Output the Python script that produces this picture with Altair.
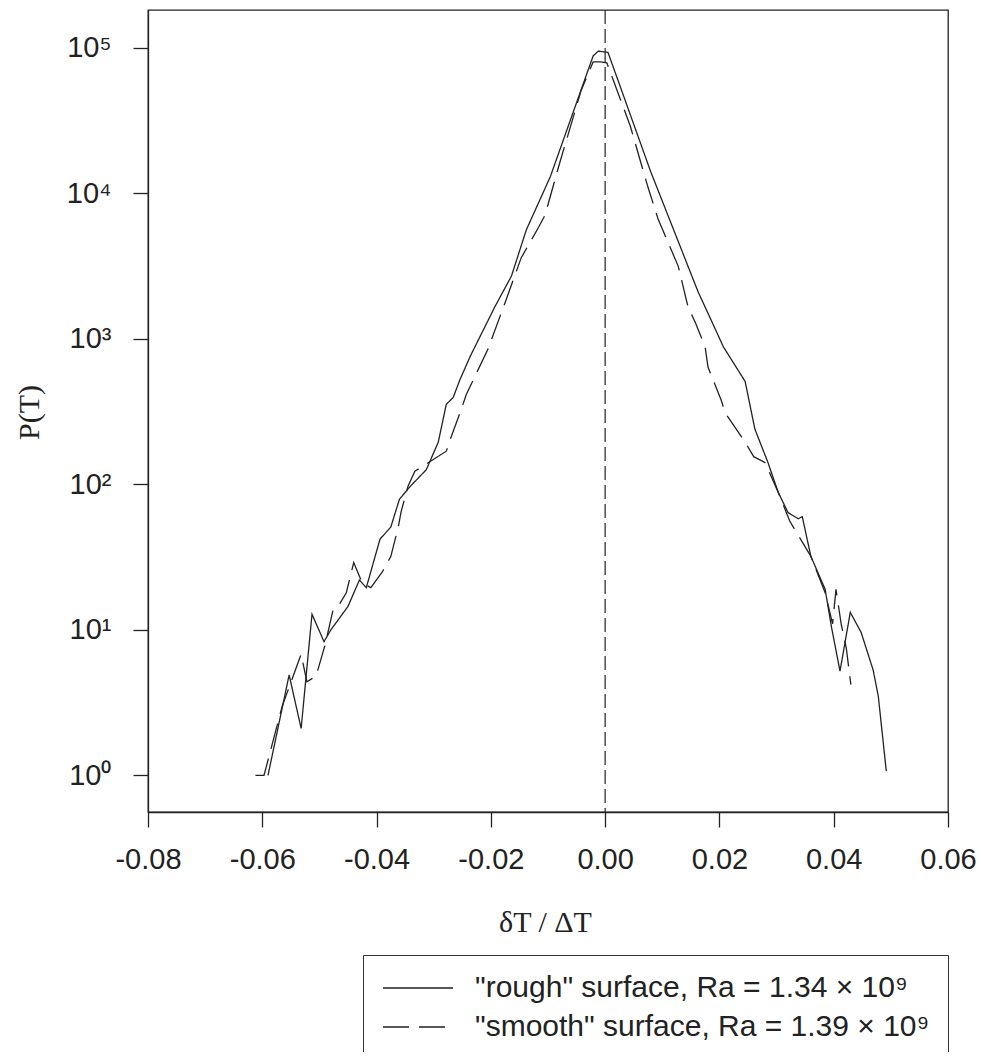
import altair as alt
import pandas as pd

# ---- data ----
rough_x = [-0.0590, -0.0553, -0.0532, -0.0513, -0.0492, -0.0480, -0.0450, -0.0430, -0.0418,
           -0.0394, -0.0375, -0.0360, -0.0341, -0.0313, -0.0292, -0.0278, -0.0266, -0.0254,
           -0.0236, -0.0193, -0.0164, -0.0138, -0.0096, -0.0021, -0.0012, 0.0005, 0.0080,
           0.0163, 0.0180, 0.0207, 0.0245, 0.0262, 0.0285, 0.0303, 0.0320, 0.0338, 0.0345,
           0.0360, 0.0385, 0.0396, 0.0411, 0.0429, 0.0448, 0.0469, 0.0478, 0.0492]
rough_p = [1.0, 4.9, 2.1, 12.8, 8.3, 10, 14.5, 22, 19.5,
           42, 51, 79, 97, 126, 195, 355, 395, 525,
           760, 1660, 2700, 5600, 13000, 88000, 95000, 93000, 14000,
           2090, 1500, 880, 510, 240, 141, 88, 64, 58, 60,
           32, 19, 10.5, 5.2, 13.2, 9.6, 5.3, 3.5, 1.07]

smooth_x = [-0.0612, -0.0597, -0.0565, -0.0532, -0.0522, -0.0506, -0.0490, -0.0476, -0.0465,
            -0.0453, -0.0440, -0.0425, -0.0410, -0.0390, -0.0375, -0.0362, -0.0357, -0.0345,
            -0.0333, -0.0278, -0.0270, -0.0252, -0.0243, -0.0205, -0.0175, -0.0147, -0.0117,
            -0.0105, -0.0082, -0.0042, -0.0021, -0.0008, 0.0003, 0.0044, 0.0075, 0.0093,
            0.0128, 0.0145, 0.0158, 0.0175, 0.0180, 0.0203, 0.0210, 0.0245, 0.0260, 0.0280,
            0.0303, 0.0323, 0.0360, 0.0385, 0.0398, 0.0404, 0.0413, 0.0422, 0.0430]
smooth_p = [1.0, 1.0, 3.0, 6.8, 4.4, 4.8, 7.9, 13.8, 15,
            18, 29, 21, 19.5, 25, 32, 51, 65, 97,
            123, 169, 209, 325, 415, 850, 1780, 3600, 5800,
            7100, 15000, 51000, 80000, 80000, 79000, 29000, 11000, 6600,
            3150, 1660, 1290, 880, 640, 380, 310, 195, 155, 141,
            88, 56, 32, 18, 11, 19, 11, 7.5, 4.2]

x_ticks = [-0.08, -0.06, -0.04, -0.02, 0.0, 0.02, 0.04, 0.06]
y_ticks = [1, 10, 100, 1000, 10000, 100000]
series_names = ['"rough" surface, Ra = 1.34 × 10⁹', '"smooth" surface, Ra = 1.39 × 10⁹']
zero_line = [0.0]

df = pd.concat([
    pd.DataFrame({"x": rough_x, "p": rough_p, "series": series_names[0], "o": range(len(rough_x))}),
    pd.DataFrame({"x": smooth_x, "p": smooth_p, "series": series_names[1], "o": range(len(smooth_x))}),
])

INK = "#222222"
SANS = "Liberation Sans"
SERIF = "Liberation Serif"

x_enc = alt.X(
    "x:Q",
    scale=alt.Scale(domain=[-0.08, 0.06], nice=False, zero=False),
    axis=alt.Axis(
        values=x_ticks,
        labelExpr="(datum.value < -0.000001 ? '-' : '') + format(abs(datum.value), '.2f')",
        title="δT / ΔT",
        titleFont=SERIF, titleFontSize=30, titleFontWeight="normal", titleColor=INK,
        titleX=397, titleY=119, titleBaseline="alphabetic", titleAnchor="start", titleAlign="center",
        labelFont=SANS, labelFontSize=29, labelColor=INK, labelPadding=18,
        tickSize=15, tickColor=INK, tickWidth=1.3, domainColor=INK, domainWidth=1.3,
        grid=False, labelFlush=False, labelOverlap=False,
    ),
)

y_enc = alt.Y(
    "p:Q",
    scale=alt.Scale(type="log", domain=[0.56, 182000], nice=False),
    axis=alt.Axis(
        values=y_ticks,
        labelExpr="'10' + ['⁰','¹','²','³','⁴','⁵'][round(log(datum.value)/LN10)]",
        title="P(T)",
        titleFont=SERIF, titleFontSize=30, titleFontWeight="normal", titleColor=INK,
        titleX=-110, titleY=402, titleBaseline="alphabetic", titleAngle=270, titleAlign="center",
        labelFont=SANS, labelFontSize=29, labelColor=INK, labelPadding=22,
        tickSize=15, tickColor=INK, tickWidth=1.3, domainColor=INK, domainWidth=1.3,
        grid=False, labelOverlap=False,
    ),
)

lines = alt.Chart(df).mark_line(strokeWidth=1.3, clip=True, color=INK).encode(
    x=x_enc,
    y=y_enc,
    order="o:Q",
    strokeDash=alt.StrokeDash(
        "series:N",
        scale=alt.Scale(domain=series_names, range=[[1, 0], [26, 10]]),
        title=None,
        legend=alt.Legend(
            orient="none", legendX=215, legendY=945,
            strokeColor="#333333", fillColor="white", padding=18,
            labelFont=SANS, labelFontSize=30, labelColor=INK, labelLimit=1000,
            labelOffset=64, rowPadding=9,
            symbolType="M-1.3,0H5.7", symbolSize=400, symbolStrokeWidth=1.3,
            symbolStrokeColor=INK,
        ),
    ),
)

rule = alt.Chart(pd.DataFrame({"x": zero_line})).mark_rule(
    strokeDash=[14, 5], color=INK, strokeWidth=1.2
).encode(x=x_enc)

chart = (
    alt.layer(lines, rule)
    .properties(
        width=800, height=802,
        autosize=alt.AutoSizeParams(type="none"),
        padding={"left": 140, "top": 2, "right": 30, "bottom": 240},
        background="white",
    )
    .configure_view(stroke=INK, strokeWidth=1.3)
)

chart.save("out.html", embed_options={"renderer": "svg", "actions": False})
